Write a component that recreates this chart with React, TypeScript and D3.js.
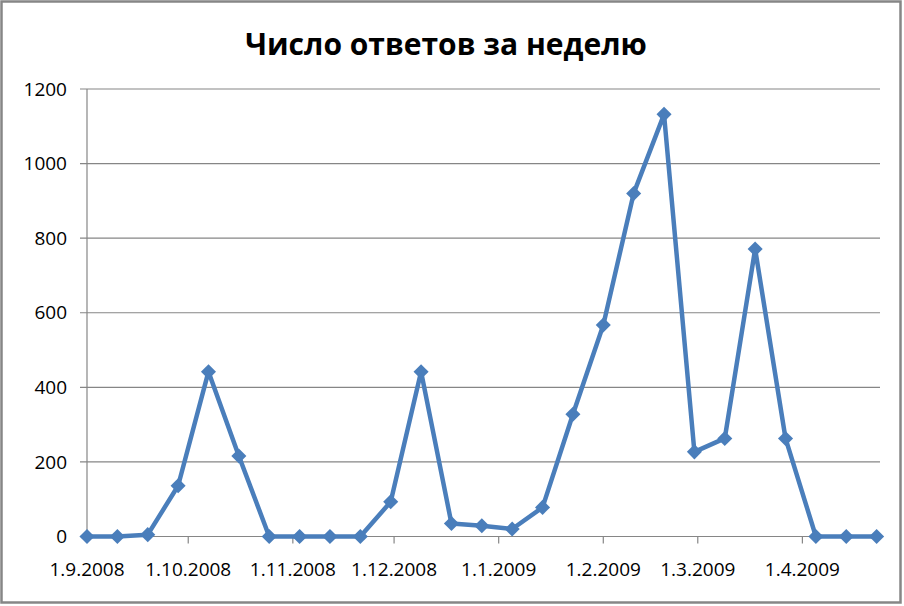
import React, { useEffect, useRef } from "react"
import * as d3 from "d3"

// ---------- Data ----------
const title = "Число ответов за неделю"

// one point every 9 days
const pointDates = [
    "2008-09-01", "2008-09-10", "2008-09-19", "2008-09-28", "2008-10-07",
    "2008-10-16", "2008-10-25", "2008-11-03", "2008-11-12", "2008-11-21",
    "2008-11-30", "2008-12-09", "2008-12-18", "2008-12-27", "2009-01-05",
    "2009-01-14", "2009-01-23", "2009-02-01", "2009-02-10", "2009-02-19",
    "2009-02-28", "2009-03-09", "2009-03-18", "2009-03-27", "2009-04-05",
    "2009-04-14", "2009-04-23",
]
const answers = [
    0, 0, 5, 136, 442,
    216, 0, 0, 0, 0,
    93, 442, 35, 29, 20,
    78, 328, 567, 920, 1132,
    227, 263, 771, 263, 0,
    0, 0,
]

const xDomain = ["2008-09-01", "2009-04-24"]
const xTickDates = [
    "2008-09-01", "2008-10-01", "2008-11-01", "2008-12-01",
    "2009-01-01", "2009-02-01", "2009-03-01", "2009-04-01",
]
const yTicks = [0, 200, 400, 600, 800, 1000, 1200]

const parse = d3.utcParse("%Y-%m-%d")
const fmt = d3.utcFormat("%-d.%-m.%Y")

const W = 904
const H = 606
const GRID = "#868686"
const LINE = "#4a7ebb"
const FONT = "'Open Sans', 'Noto Sans', sans-serif"

const App: React.FC = () => {
    const svgRef = useRef<SVGSVGElement>(null)

    useEffect(() => {
        document.body.style.margin = "0"
        if (!svgRef.current) return
        const svg = d3.select(svgRef.current)
        svg.selectAll("*").remove()

        const margin = { top: 89, left: 87 }
        const innerW = 880 - margin.left
        const innerH = 536.5 - margin.top

        // chart border
        svg.append("rect")
            .attr("x", 1.5).attr("y", 1.5)
            .attr("width", 899).attr("height", 601)
            .attr("fill", "#fff")
            .attr("stroke", GRID)
            .attr("stroke-width", 2.5)

        svg.append("text")
            .attr("x", 446)
            .attr("y", 55)
            .attr("text-anchor", "middle")
            .attr("font-family", FONT)
            .attr("font-weight", 700)
            .attr("font-size", 30)
            .attr("fill", "#000")
            .text(title)

        const g = svg.append("g").attr("transform", `translate(${margin.left},${margin.top})`)

        const x = d3.scaleUtc()
            .domain(xDomain.map(d => parse(d) as Date))
            .range([0, innerW])
        const y = d3.scaleLinear()
            .domain([0, 1200])
            .range([innerH, 0])

        // horizontal grid
        g.selectAll(".grid")
            .data(yTicks)
            .enter()
            .append("line")
            .attr("x1", -7)
            .attr("x2", innerW)
            .attr("y1", d => y(d))
            .attr("y2", d => y(d))
            .attr("stroke", GRID)
            .attr("stroke-width", 1.2)

        // y axis
        g.append("line")
            .attr("x1", 0).attr("x2", 0)
            .attr("y1", 0).attr("y2", innerH)
            .attr("stroke", GRID)
            .attr("stroke-width", 1.2)

        g.selectAll(".ylab")
            .data(yTicks)
            .enter()
            .append("text")
            .attr("x", -20)
            .attr("y", d => y(d))
            .attr("dy", "0.35em")
            .attr("text-anchor", "end")
            .attr("font-family", FONT)
            .attr("font-size", 19)
            .attr("fill", "#000")
            .text(d => String(d))

        // x axis ticks + labels
        const xt = xTickDates.map(d => parse(d) as Date)
        g.selectAll(".xtick")
            .data(xt.slice(1))
            .enter()
            .append("line")
            .attr("x1", d => x(d))
            .attr("x2", d => x(d))
            .attr("y1", innerH)
            .attr("y2", innerH + 7)
            .attr("stroke", GRID)
            .attr("stroke-width", 1.2)

        g.selectAll(".xlab")
            .data(xt)
            .enter()
            .append("text")
            .attr("x", d => x(d))
            .attr("y", innerH + 39)
            .attr("text-anchor", "middle")
            .attr("font-family", FONT)
            .attr("font-size", 19)
            .attr("fill", "#000")
            .text(d => fmt(d))

        // series
        const pts = pointDates.map((d, i) => ({ date: parse(d) as Date, value: answers[i] }))
        const line = d3.line<{ date: Date; value: number }>()
            .x(d => x(d.date))
            .y(d => y(d.value))

        g.append("path")
            .datum(pts)
            .attr("d", line)
            .attr("fill", "none")
            .attr("stroke", LINE)
            .attr("stroke-width", 4.5)
            .attr("stroke-linejoin", "round")

        const diamond = d3.symbol().type(d3.symbolDiamond2).size(145)
        g.selectAll(".marker")
            .data(pts)
            .enter()
            .append("path")
            .attr("transform", d => `translate(${x(d.date)},${y(d.value)})`)
            .attr("d", diamond)
            .attr("fill", LINE)
    }, [])

    return <svg ref={svgRef} width={W} height={H} style={{ display: "block" }} />
}

export default App
